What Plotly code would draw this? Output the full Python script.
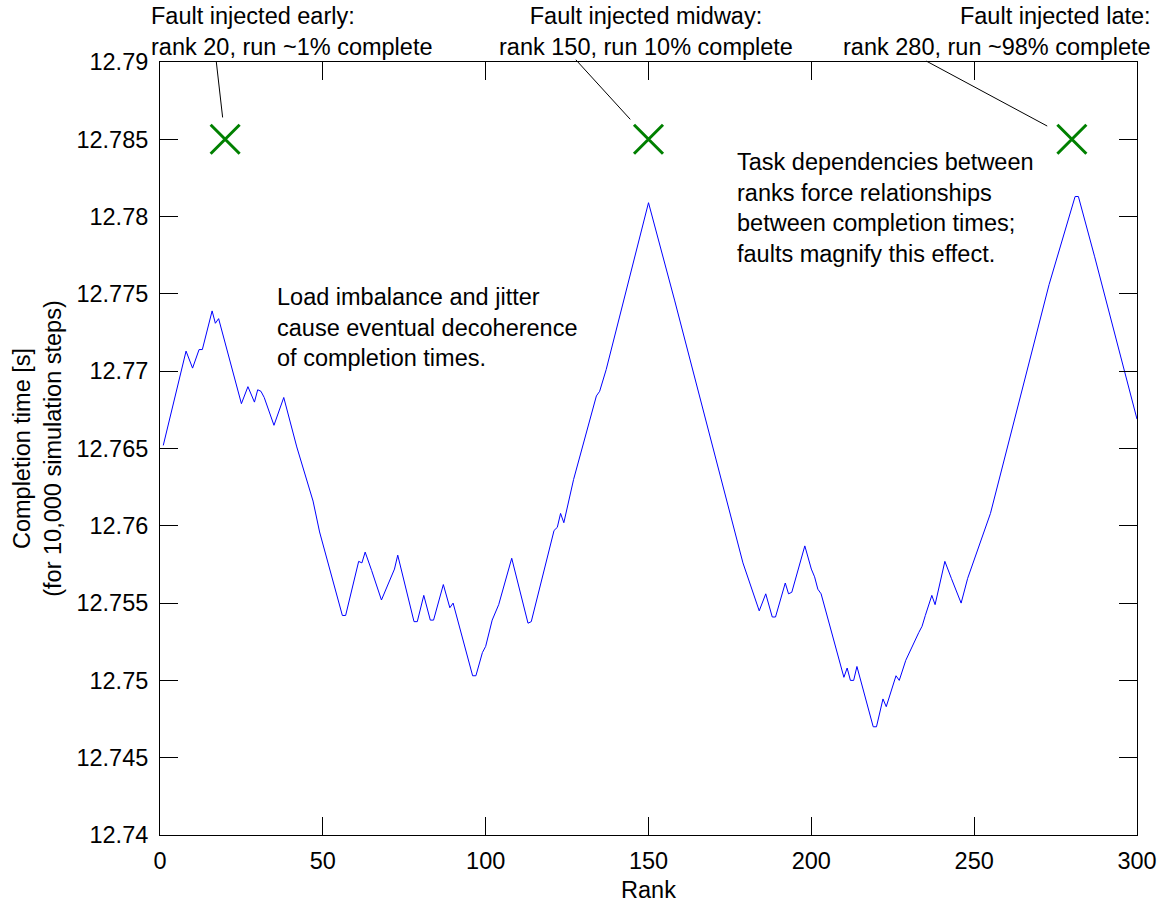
import plotly.graph_objects as go

# Completion time per rank (vertices of the traced curve)
ranks = [1, 8, 10, 12, 13, 16, 17, 18, 25, 27, 29, 30, 31, 32, 35, 38, 42, 44, 47, 49,
         56, 57, 61, 62, 63, 65, 67, 68, 72, 73, 78, 79, 81, 83, 84, 87, 89, 90, 96, 97,
         99, 100, 102, 104, 108, 113, 114, 121, 122, 123, 124, 127, 134, 135, 137, 150,
         158, 166, 179, 184, 186, 188, 189, 192, 193, 194, 198, 200, 201, 202, 203, 210,
         211, 212, 213, 214, 219, 220, 222, 223, 226, 227, 229, 233, 234, 235, 237, 238,
         241, 243, 246, 248, 255, 273, 281, 282, 287, 300]
completion = [12.7652, 12.7713, 12.7702, 12.7714, 12.7714, 12.7739, 12.7731, 12.7734,
              12.7679, 12.7690, 12.7680, 12.7688, 12.7687, 12.7683, 12.7665, 12.7683,
              12.7651, 12.7637, 12.7616, 12.7596, 12.7542, 12.7542, 12.7577, 12.7576,
              12.7583, 12.7571, 12.7559, 12.7552, 12.7572, 12.7581, 12.7538, 12.7538,
              12.7555, 12.7539, 12.7539, 12.7562, 12.7547, 12.7550, 12.7503, 12.7503,
              12.7518, 12.7522, 12.7539, 12.7549, 12.7579, 12.7537, 12.7538, 12.7597,
              12.7599, 12.7608, 12.7602, 12.7630, 12.7684, 12.7687, 12.7701, 12.7809,
              12.7746, 12.7681, 12.7576, 12.7545, 12.7556, 12.7541, 12.7541, 12.7563,
              12.7556, 12.7557, 12.7587, 12.7572, 12.7567, 12.7559, 12.7556, 12.7502,
              12.7508, 12.7500, 12.7500, 12.7509, 12.7470, 12.7470, 12.7488, 12.7483,
              12.7503, 12.7500, 12.7513, 12.7531, 12.7535, 12.7542, 12.7555, 12.7549,
              12.7577, 12.7566, 12.7550, 12.7566, 12.7608, 12.7756, 12.7813, 12.7813,
              12.7774, 12.7669]

# Fault injection points
fault_ranks = [20, 150, 280]
fault_level = [12.785, 12.785, 12.785]
fault_labels = [
    "Fault injected early:<br>rank 20, run ~1% complete",
    "Fault injected midway:<br>rank 150, run 10% complete",
    "Fault injected late:<br>rank 280, run ~98% complete",
]

x_ticks = [0, 50, 100, 150, 200, 250, 300]
y_ticks = [12.74, 12.745, 12.75, 12.755, 12.76, 12.765, 12.77, 12.775, 12.78, 12.785, 12.79]
y_tick_text = ["12.74", "12.745", "12.75", "12.755", "12.76", "12.765", "12.77",
               "12.775", "12.78", "12.785", "12.79"]

FONT = "Liberation Sans, Arial, Helvetica, sans-serif"
FS = 23.5

fig = go.Figure()
fig.add_trace(go.Scatter(x=ranks, y=completion, mode="lines",
                         line=dict(color="#0000ff", width=1), showlegend=False))
fig.add_trace(go.Scatter(x=fault_ranks, y=fault_level, mode="markers",
                         marker=dict(symbol="x-thin", size=29, color="#008000",
                                     line=dict(color="#008000", width=3)),
                         showlegend=False))

# Leader lines from the fault labels to the markers
leader = [(-9, -79, 22), (-74, -81, 27), (-147, -79, 28)]
for fx, fy, (ax, ay, so) in zip(fault_ranks, fault_level, leader):
    fig.add_annotation(x=fx, y=fy, xref="x", yref="y", text="", showarrow=True,
                       arrowhead=0, arrowwidth=1, arrowcolor="black",
                       ax=ax, ay=ay, standoff=so)

# Fault label texts
label_pos = [(-0.0112, "left"), (0.4974, "center"), (1.0164, "right")]
for txt, (px, al) in zip(fault_labels, label_pos):
    fig.add_annotation(x=px, y=1.040, xref="paper", yref="paper", text=txt,
                       showarrow=False, xanchor=al, yanchor="middle", align=al,
                       font=dict(family=FONT, size=FS, color="black"))

fig.add_annotation(x=0.1177, y=0.657, xref="paper", yref="paper",
                   text="Load imbalance and jitter<br>cause eventual decoherence<br>of completion times.",
                   showarrow=False, xanchor="left", yanchor="middle", align="left",
                   font=dict(family=FONT, size=FS, color="black"))
fig.add_annotation(x=0.5886, y=0.8105, xref="paper", yref="paper",
                   text="Task dependencies between<br>ranks force relationships<br>between completion times;<br>faults magnify this effect.",
                   showarrow=False, xanchor="left", yanchor="middle", align="left",
                   font=dict(family=FONT, size=FS, color="black"))

axis_common = dict(showline=True, linecolor="black", linewidth=1, mirror="ticks",
                   ticks="inside", ticklen=18, tickwidth=1, tickcolor="black",
                   showgrid=False, zeroline=False, automargin=False,
                   tickfont=dict(family=FONT, size=FS, color="black"))

fig.update_xaxes(range=[0, 300], tickvals=x_ticks,
                 title=dict(text="Rank", font=dict(family=FONT, size=FS, color="black"),
                            standoff=9),
                 ticklabelstandoff=5, **axis_common)
fig.update_yaxes(range=[12.74, 12.79], tickvals=y_ticks, ticktext=y_tick_text,
                 title=dict(text="Completion time [s]<br>(for 10,000 simulation steps)",
                            font=dict(family=FONT, size=FS, color="black"), standoff=8),
                 ticklabelstandoff=6, **axis_common)

fig.update_layout(width=1161, height=903, margin=dict(l=160, r=24, t=62, b=68),
                  paper_bgcolor="white", plot_bgcolor="white",
                  font=dict(family=FONT, size=FS, color="black"))

fig.write_html("out.html")
